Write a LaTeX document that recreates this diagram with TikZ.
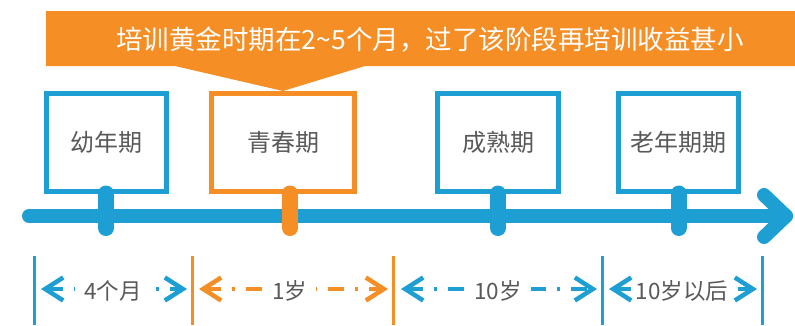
\documentclass[tikz,border=0pt]{standalone}
\usepackage{fontspec}
\setmainfont{Noto Sans CJK SC}
\usetikzlibrary{arrows.meta}
\definecolor{tblue}{HTML}{1E9FD3}
\definecolor{torange}{HTML}{F68E26}
\definecolor{tgray}{HTML}{595959}
\begin{document}
\begin{tikzpicture}[x=1pt,y=-1pt,
  stagebox/.style={draw=#1, line width=5pt, fill=white, minimum height=98pt, inner sep=0pt,
    text=tgray, font=\fontsize{24}{27}\selectfont},
  stem/.style={draw=#1, line width=16pt, line cap=round},
  axis/.style={draw=tblue, line width=14pt, line cap=round, line join=round},
  divider/.style={draw=#1, line width=3pt},
  span/.style={draw=#1, line width=4pt, dash pattern=on 16pt off 11pt on 3pt off 11pt,
    {Straight Barb[length=18pt,width=23pt,line width=4.5pt]}-{Straight Barb[length=18pt,width=23pt,line width=4.5pt]},
    shorten <=7pt, shorten >=5pt},
  spanlabel/.style={fill=white, text=tgray, inner xsep=9pt, inner ysep=2pt,
    font=\fontsize{22.5}{24}\selectfont}
]
\useasboundingbox (0,0) rectangle (795,325);

% banner
\fill[torange] (46,11) -- (795,11) -- (795,66) -- (365,66) -- (283,91) -- (175,66) -- (46,66) -- cycle;
\node[text=white, font=\fontsize{26.5}{30}\selectfont, inner sep=0pt] (banner) at (430,40)
  {培训黄金时期在2\textasciitilde 5个月，过了该阶段再培训收益甚小};

% axis
\coordinate (axL) at (29,216);
\coordinate (axR) at (786,216);
\coordinate (headU) at (764,195);
\coordinate (headD) at (764,237);
\draw[axis] (axL) -- (axR);
\draw[axis] (headU) -- (axR) -- (headD);

% boxes
\node[stagebox=tblue, minimum width=120pt] (b1) at (106,142) {幼年期};
\node[stagebox=torange, minimum width=143pt] (b2) at (283,142) {青春期};
\node[stagebox=tblue, minimum width=121pt] (b3) at (498,142) {成熟期};
\node[stagebox=tblue, minimum width=120pt] (b4) at (678.5,142) {老年期期};

% stems
\coordinate (s1) at (106,228);
\coordinate (s2) at (290,228);
\coordinate (s3) at (498,228);
\coordinate (s4) at (678.5,228);
\draw[stem=tblue] (s1 |- b1.south) -- (s1);
\draw[stem=torange] (s2 |- b2.south) -- (s2);
\draw[stem=tblue] (s3 |- b3.south) -- (s3);
\draw[stem=tblue] (s4 |- b4.south) -- (s4);

% dividers
\coordinate (d1t) at (34,256);   \coordinate (d1b) at (34,325);
\coordinate (d2t) at (192,256);  \coordinate (d2b) at (192,325);
\coordinate (d3t) at (393,256);  \coordinate (d3b) at (393,325);
\coordinate (d4t) at (602,256);  \coordinate (d4b) at (602,325);
\coordinate (d5t) at (762,256);  \coordinate (d5b) at (762,325);
\draw[divider=tblue] (d1t) -- (d1b);
\draw[divider=torange] (d2t) -- (d2b);
\draw[divider=torange] (d3t) -- (d3b);
\draw[divider=tblue] (d4t) -- (d4b);
\draw[divider=tblue] (d5t) -- (d5b);

% spans
\coordinate (a1) at (34,289);
\coordinate (a2) at (192,289);
\coordinate (a3) at (393,289);
\coordinate (a3b) at (394,289);
\coordinate (a4) at (602,289);
\coordinate (a5) at (762,289);
\draw[span=tblue] (a1) -- (a2);
\draw[span=torange] (a2) -- (a3);
\draw[span=tblue] (a3b) -- (a4);
\draw[span=tblue] (a4) -- (a5);
\node[spanlabel] (l1) at (113,291) {4个月};
\node[spanlabel] (l2) at (290,291) {1岁};
\node[spanlabel] (l3) at (498,291) {10岁};
\node[spanlabel, inner xsep=1pt] (l4) at (682,291) {10岁以后};
\end{tikzpicture}
\end{document}
